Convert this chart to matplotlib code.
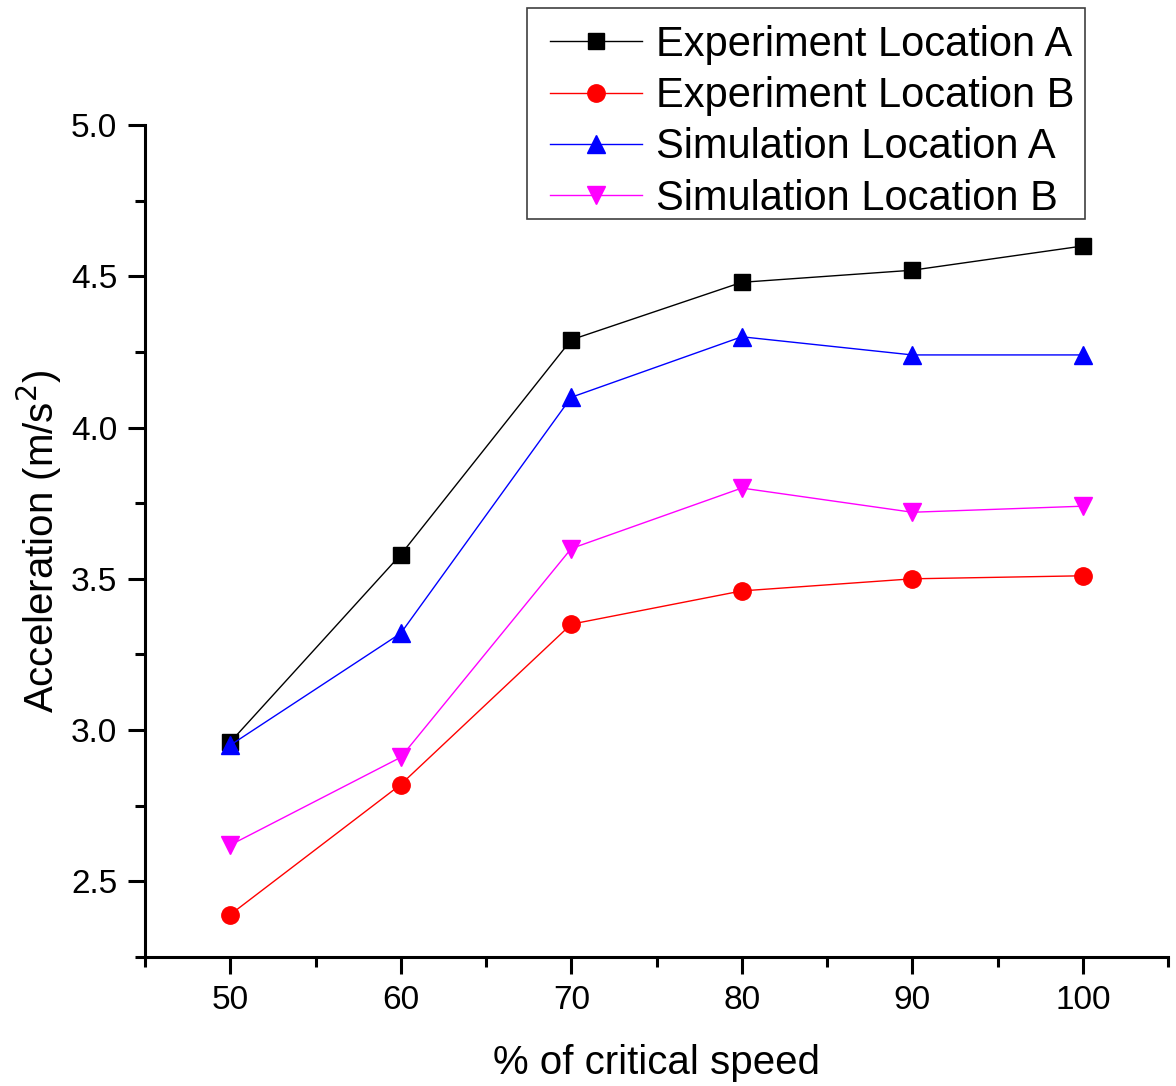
#!/usr/bin/env python3
"""
Acceleration vs % of critical speed, experiment vs simulation
"""
import matplotlib
matplotlib.use('Agg')
import matplotlib.pyplot as plt
from matplotlib.patches import Rectangle
from matplotlib.ticker import MultipleLocator, FormatStrFormatter

speed = [50, 60, 70, 80, 90, 100]
exp_a = [2.96, 3.58, 4.29, 4.48, 4.52, 4.60]
exp_b = [2.39, 2.82, 3.35, 3.46, 3.50, 3.51]
sim_a = [2.95, 3.32, 4.10, 4.30, 4.24, 4.24]
sim_b = [2.62, 2.91, 3.60, 3.80, 3.72, 3.74]


def main():
  plt.rcParams['font.family'] = ['Liberation Sans', 'DejaVu Sans']
  W, H = 1176, 1086
  fig = plt.figure(figsize=(W / 100, H / 100), dpi=100)
  ax = fig.add_axes([0.1233, 0.1188, 0.8699, 0.7661])

  ax.plot(speed, exp_a, color='black', marker='s', ms=11.5, lw=1, label='Experiment Location A')
  ax.plot(speed, exp_b, color='red', marker='o', ms=12.5, lw=1, label='Experiment Location B')
  ax.plot(speed, sim_a, color='blue', marker='^', ms=13.5, lw=1, label='Simulation Location A')
  ax.plot(speed, sim_b, color='magenta', marker='v', ms=13.5, lw=1, label='Simulation Location B')

  ax.set_xlim(45, 105)
  ax.set_ylim(2.25, 5.0)
  ax.xaxis.set_major_locator(MultipleLocator(10))
  ax.xaxis.set_minor_locator(MultipleLocator(5))
  ax.yaxis.set_major_locator(MultipleLocator(0.5))
  ax.yaxis.set_minor_locator(MultipleLocator(0.25))
  ax.yaxis.set_major_formatter(FormatStrFormatter('%.1f'))

  for side in ('top', 'right'):
    ax.spines[side].set_visible(False)
  for side in ('left', 'bottom'):
    ax.spines[side].set_linewidth(2.2)
  ax.tick_params(which='major', direction='out', length=12, width=2.2, labelsize=24, pad=8)
  ax.tick_params(which='minor', direction='out', length=7, width=2.2)

  ax.set_xlabel('% of critical speed', fontsize=29, labelpad=20)
  ax.set_ylabel('Acceleration (m/s$^2$)', fontsize=29, labelpad=5)

  # legend without its own frame; frame drawn as a fixed box like the original
  fig.legend(loc='upper left', bbox_to_anchor=(527 / W, 1 - 2 / H), fontsize=30,
             frameon=False, handlelength=2.2, labelspacing=0.27, borderpad=0.55,
             handletextpad=0.35, borderaxespad=0)
  fig.patches.append(Rectangle((527 / W, 1 - 219 / H), (1085 - 527) / W, 211 / H,
                               transform=fig.transFigure, fill=False,
                               edgecolor='#404040', linewidth=1.2))

  fig.savefig('out.png', dpi=100)


if __name__ == '__main__':
  main()
